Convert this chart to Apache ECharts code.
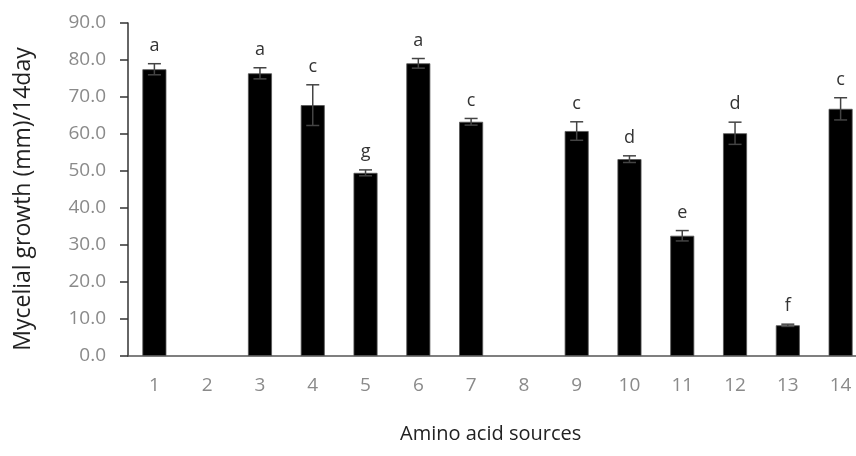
<!DOCTYPE html>
<html><head><meta charset="utf-8">
<script src="https://cdn.jsdelivr.net/npm/echarts@6/dist/echarts.min.js"></script>
<style>html,body{margin:0;padding:0;background:#fff}#c{width:856px;height:456px}</style>
</head><body><div id="c"></div>
<script>
const categories = ['1','2','3','4','5','6','7','8','9','10','11','12','13','14'];
const means = [77.5, null, 76.4, 67.8, 49.5, 79.1, 63.3, null, 60.8, 53.2, 32.5, 60.2, 8.3, 66.8];
const errors = [1.5, null, 1.5, 5.5, 0.8, 1.3, 0.9, null, 2.5, 0.9, 1.4, 3.0, 0.3, 3.0];
const letters = ['a', '', 'a', 'c', 'g', 'a', 'c', '', 'c', 'd', 'e', 'd', 'f', 'c'];
const yTicks = [0, 10, 20, 30, 40, 50, 60, 70, 80, 90];

const chart = echarts.init(document.getElementById('c'));
const errData = categories.map((c, i) => [i, means[i], errors[i], letters[i]]).filter(d => d[1] != null);
chart.setOption({
  animation: false,
  grid: {left: 128, top: 23, bottom: 100, width: 739, outerBoundsMode: 'none', containLabel: false},
  xAxis: {
    type: 'category', data: categories,
    axisLine: {lineStyle: {color: '#555', width: 1.5}},
    axisTick: {show: false},
    axisLabel: {color: '#8a8a8a', fontSize: 19, margin: 20, fontFamily: 'Open Sans'}
  },
  yAxis: {
    type: 'value', min: yTicks[0], max: yTicks[yTicks.length - 1], interval: 10,
    axisLine: {show: true, lineStyle: {color: '#333', width: 1.5}},
    axisTick: {show: true, inside: false, length: 8, lineStyle: {color: '#333', width: 1.5}},
    axisLabel: {color: '#8a8a8a', fontSize: 19, margin: 22, fontFamily: 'Open Sans', formatter: v => v.toFixed(1)},
    splitLine: {show: false}
  },
  graphic: [
    {type: 'text', left: 400, top: 424, style: {text: 'Amino acid sources', fill: '#222', fontSize: 20, fontFamily: 'Open Sans'}},
    {type: 'text', x: 23, y: 199, rotation: Math.PI / 2, style: {text: 'Mycelial growth (mm)/14day', fill: '#222', fontSize: 23, fontFamily: 'Open Sans', align: 'center', verticalAlign: 'middle'}}
  ],
  series: [
    {type: 'bar', data: means, barWidth: 24, itemStyle: {color: '#000', borderColor: '#555', borderWidth: 0.8}},
    {
      type: 'custom', data: errData, z: 10,
      renderItem: function (params, api) {
        const x = api.value(0), m = api.value(1), e = api.value(2);
        const top = api.coord([x, m + e]);
        const bot = api.coord([x, m - e]);
        const w = 6.5;
        const st = {stroke: '#444', lineWidth: 1.5};
        return {type: 'group', children: [
          {type: 'line', shape: {x1: top[0], y1: top[1], x2: bot[0], y2: bot[1]}, style: st},
          {type: 'line', shape: {x1: top[0] - w, y1: top[1], x2: top[0] + w, y2: top[1]}, style: st},
          {type: 'line', shape: {x1: bot[0] - w, y1: bot[1], x2: bot[0] + w, y2: bot[1]}, style: st},
          {type: 'text', style: {text: api.value(3), x: top[0], y: top[1] - 9, align: 'center', verticalAlign: 'bottom', fill: '#333', fontSize: 18, fontFamily: 'Open Sans'}}
        ]};
      }
    }
  ]
});
</script></body></html>
